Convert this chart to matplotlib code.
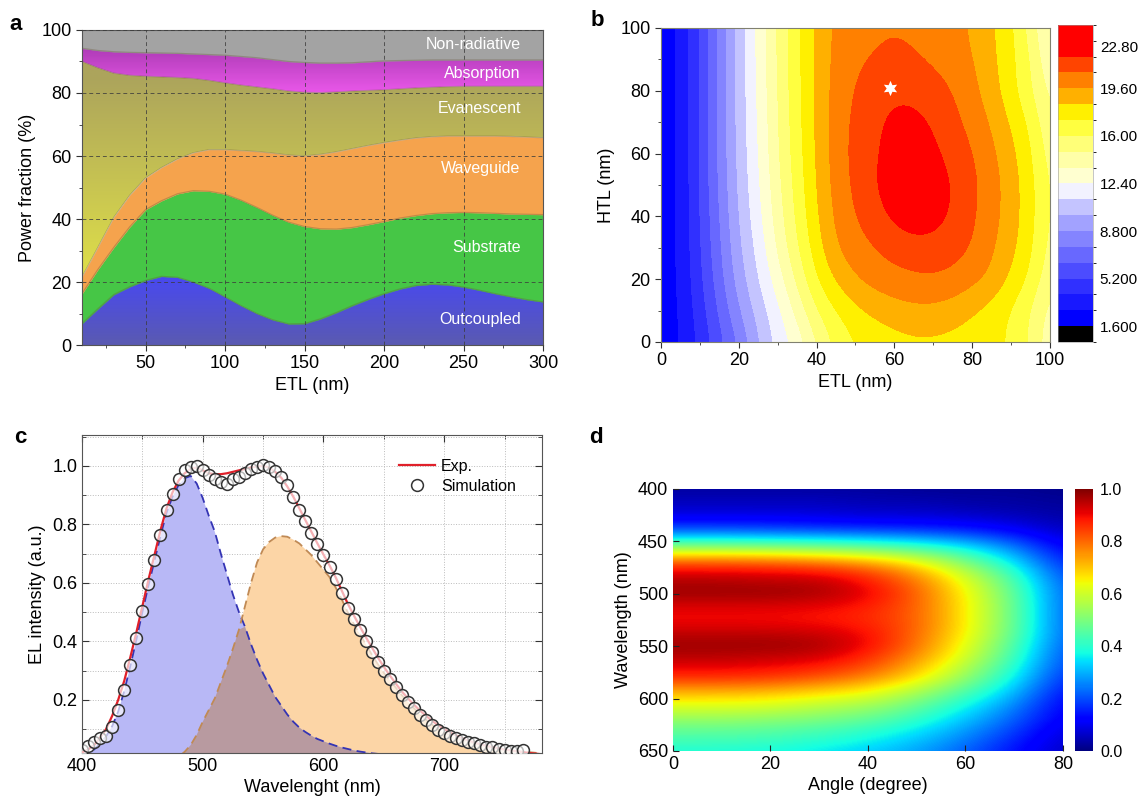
import numpy as np
import matplotlib
matplotlib.use('Agg')
import matplotlib.pyplot as plt
from matplotlib.colors import LinearSegmentedColormap, ListedColormap, BoundaryNorm
from matplotlib.ticker import MultipleLocator

plt.rcParams['font.family'] = ['Liberation Sans', 'DejaVu Sans']

## ---------- panel a : power fractions vs ETL (cumulative tops, %) ----------
a_etl = [10, 20, 30, 40, 50, 60, 70, 80, 90, 100, 110, 120, 130, 140, 150,
         160, 170, 180, 190, 200, 210, 220, 230, 240, 250, 260, 270, 280, 290, 300]
a_top_outcoupled = [6.8, 11.5, 16.0, 18.5, 20.5, 21.8, 21.5, 20.0, 18.0, 15.3,
                    12.5, 10.0, 8.0, 6.7, 6.8, 8.3, 10.3, 12.5, 14.5, 16.3,
                    17.8, 18.9, 19.3, 19.1, 18.4, 17.4, 16.3, 15.3, 14.4, 13.7]
a_top_substrate = [16.3, 24.0, 31.0, 37.5, 43.0, 45.8, 48.0, 49.0, 48.8, 47.9,
                   46.0, 43.7, 41.2, 39.0, 37.6, 36.9, 36.8, 37.3, 38.2, 39.2,
                   40.3, 41.1, 41.7, 42.0, 42.1, 42.0, 41.8, 41.6, 41.5, 41.4]
a_top_waveguide = [21.6, 31.0, 40.5, 47.5, 53.0, 56.3, 59.0, 61.0, 62.0, 62.0,
                   61.7, 61.4, 60.9, 60.3, 60.0, 60.5, 61.3, 62.3, 63.3, 64.2,
                   65.0, 65.7, 66.1, 66.3, 66.3, 66.3, 66.3, 66.2, 66.0, 65.8]
a_top_evanescent = [90.0, 88.0, 86.3, 85.6, 85.3, 85.1, 84.9, 84.6, 84.0, 83.2,
                    82.5, 81.9, 81.3, 80.6, 80.2, 80.1, 80.3, 80.6, 80.8, 81.0,
                    81.3, 81.6, 81.8, 82.0, 82.1, 82.1, 82.1, 82.1, 82.1, 82.1]
a_top_absorption = [94.2, 93.5, 93.1, 92.9, 92.8, 92.7, 92.6, 92.4, 92.2, 92.0,
                    91.6, 91.2, 90.6, 90.0, 89.7, 89.5, 89.5, 89.6, 89.9, 90.2,
                    90.3, 90.4, 90.5, 90.5, 90.5, 90.5, 90.5, 90.5, 90.5, 90.5]
a_labels = ['Non-radiative', 'Absorption', 'Evanescent', 'Waveguide', 'Substrate', 'Outcoupled']
a_label_y = [95.3, 86.3, 75.0, 56.1, 31.1, 8.1]

## ---------- panel b : efficiency map (rows = HTL, cols = ETL) ----------
b_etl = [0, 5, 10, 15, 20, 25, 30, 35, 40, 45, 50, 55, 60, 65, 70, 75, 80, 85, 90, 95, 100]
b_htl = [0, 10, 20, 30, 40, 50, 60, 70, 80, 90, 100]
b_eff = [
    [1.8, 2.85, 4.25, 6.0, 7.7, 9.9, 11.6, 12.8, 14.8, 16.3, 17.2, 17.6, 17.9, 18.1, 18.1, 18.0, 17.8, 17.5, 17.1, 15.9, 13.9],
    [1.9, 2.9, 4.6, 6.6, 8.7, 10.5, 12.1, 14.0, 16.0, 17.2, 18.1, 18.7, 19.1, 19.3, 19.3, 19.0, 18.5, 17.9, 17.1, 16.0, 14.3],
    [1.9, 3.0, 4.9, 7.1, 9.4, 11.2, 13.0, 15.1, 17.2, 18.6, 19.6, 20.1, 20.4, 20.6, 20.7, 20.5, 20.0, 19.4, 18.2, 17.0, 15.1],
    [2.0, 3.0, 5.1, 7.4, 9.8, 11.6, 13.8, 15.9, 17.9, 19.6, 20.3, 20.8, 21.3, 21.6, 21.6, 21.3, 20.8, 19.8, 18.8, 17.5, 15.5],
    [2.0, 3.0, 5.2, 7.6, 10.1, 12.0, 14.2, 16.3, 18.3, 19.9, 20.8, 21.6, 22.3, 22.7, 22.5, 21.9, 21.0, 20.1, 19.0, 17.7, 15.7],
    [2.0, 3.0, 5.3, 7.8, 10.3, 12.2, 14.5, 16.5, 18.5, 20.1, 21.1, 22.0, 22.7, 23.0, 22.7, 22.0, 21.1, 20.2, 19.0, 17.7, 15.7],
    [2.0, 3.0, 5.3, 7.9, 10.4, 12.4, 14.7, 16.7, 18.6, 20.2, 21.2, 21.9, 22.5, 22.7, 22.3, 21.6, 20.9, 19.9, 18.8, 17.4, 15.4],
    [2.0, 3.0, 5.3, 7.9, 10.5, 12.5, 14.8, 16.8, 18.7, 20.2, 21.1, 21.8, 22.3, 22.4, 21.9, 21.2, 20.4, 19.5, 18.3, 17.0, 14.9],
    [1.9, 3.0, 5.3, 7.9, 10.5, 12.6, 14.9, 16.9, 18.7, 20.1, 20.9, 21.5, 21.8, 21.7, 21.3, 20.8, 19.95, 19.0, 17.6, 16.2, 14.4],
    [1.9, 3.0, 5.3, 7.9, 10.5, 12.7, 15.0, 16.9, 18.7, 20.0, 20.6, 20.9, 21.1, 20.9, 20.6, 20.3, 19.7, 18.7, 17.6, 16.1, 13.6],
    [1.9, 3.0, 5.3, 7.9, 10.5, 12.7, 15.0, 16.9, 18.7, 19.9, 20.3, 20.6, 20.7, 20.6, 20.4, 20.1, 19.4, 18.6, 17.5, 15.5, 13.2],
]
b_levels = [0.4, 1.6, 2.8, 4.0, 5.2, 6.4, 7.6, 8.8, 10.0, 11.2, 12.4,
            13.6, 14.8, 16.0, 17.2, 18.4, 19.6, 20.8, 22.0, 23.2, 24.4]
b_colors = ['#000000', '#0000ff', '#1818ff', '#3030ff', '#4c4cff', '#6868ff', '#8484ff',
            '#a2a2ff', '#c4c4ff', '#f2f2ff', '#ffffd0', '#ffffa8', '#ffff78', '#ffff40',
            '#fff000', '#ffb000', '#ff8000', '#ff4400', '#ff0000', '#ff0000']
b_ticks = [1.6, 5.2, 8.8, 12.4, 16.0, 19.6, 22.8]
b_ticklabels = ['1.600', '5.200', '8.800', '12.40', '16.00', '19.60', '22.80']
star_etl = 59
star_htl = 81

## ---------- panel c : EL spectra ----------
c_wl = [400, 405, 410, 415, 420, 425, 430, 435, 440, 445, 450, 455, 460, 465, 470, 475, 480, 485, 490, 495,
        500, 505, 510, 515, 520, 525, 530, 535, 540, 545, 550, 555, 560, 565, 570, 575, 580, 585, 590, 595,
        600, 605, 610, 615, 620, 625, 630, 635, 640, 645, 650, 655, 660, 665, 670, 675, 680, 685, 690, 695,
        700, 705, 710, 715, 720, 725, 730, 735, 740, 745, 750, 755, 760, 765, 770, 775, 780]
c_exp = [0.02, 0.03, 0.045, 0.07, 0.10, 0.145, 0.20, 0.265, 0.345, 0.43, 0.52, 0.61, 0.695, 0.78, 0.855, 0.91, 0.95, 0.975, 0.99, 0.995,
         0.985, 0.975, 0.972, 0.972, 0.975, 0.98, 0.985, 0.99, 0.995, 0.998, 1.0, 0.995, 0.98, 0.96, 0.93, 0.895, 0.855, 0.815, 0.775, 0.735,
         0.697, 0.66, 0.62, 0.575, 0.53, 0.49, 0.452, 0.415, 0.38, 0.345, 0.313, 0.283, 0.255, 0.228, 0.205, 0.183, 0.163, 0.145, 0.128, 0.113,
         0.10, 0.088, 0.078, 0.069, 0.061, 0.054, 0.048, 0.043, 0.038, 0.034, 0.030, 0.027, 0.024, 0.021, 0.018, 0.016, 0.014]
c_blue = [0.0, 0.015, 0.03, 0.05, 0.075, 0.11, 0.16, 0.23, 0.315, 0.405, 0.50, 0.59, 0.675, 0.76, 0.84, 0.895, 0.935, 0.958, 0.966, 0.94,
          0.89, 0.83, 0.775, 0.70, 0.63, 0.56, 0.50, 0.45, 0.39, 0.337, 0.29, 0.25, 0.21, 0.18, 0.15, 0.125, 0.105, 0.09, 0.077, 0.066,
          0.058, 0.05, 0.043, 0.037, 0.032, 0.027, 0.023, 0.02, 0.017, 0.015, 0.013, 0.011, 0.01, 0.009, 0.008, 0.007, 0.006, 0.005, 0.005, 0.004,
          0.004, 0.003, 0.003, 0.003, 0.002, 0.002, 0.002, 0.002, 0.002, 0.001, 0.001, 0.001, 0.001, 0.001, 0.001, 0.001, 0.001]
c_orange = [0, 0, 0, 0, 0, 0, 0, 0, 0, 0, 0, 0, 0, 0, 0, 0, 0.005, 0.022, 0.045, 0.08,
            0.125, 0.165, 0.205, 0.26, 0.315, 0.375, 0.44, 0.52, 0.60, 0.67, 0.715, 0.74, 0.755, 0.76, 0.758, 0.748, 0.735, 0.715, 0.695, 0.67,
            0.645, 0.62, 0.585, 0.545, 0.50, 0.46, 0.425, 0.39, 0.355, 0.322, 0.292, 0.267, 0.241, 0.215, 0.193, 0.171, 0.15, 0.132, 0.115, 0.099,
            0.088, 0.078, 0.07, 0.063, 0.057, 0.051, 0.046, 0.041, 0.037, 0.033, 0.03, 0.027, 0.025, 0.023, 0.021, 0.019, 0.017]
c_sim_wl = c_wl[:74]
c_sim = [0.028, 0.042, 0.056, 0.068, 0.076, 0.108, 0.165, 0.235, 0.32, 0.41, 0.505, 0.595, 0.68, 0.765, 0.85, 0.905, 0.955, 0.985, 0.995, 1.0,
         0.985, 0.97, 0.955, 0.945, 0.94, 0.955, 0.962, 0.975, 0.99, 0.995, 1.005, 0.998, 0.982, 0.963, 0.935, 0.895, 0.85, 0.812, 0.77, 0.733,
         0.694, 0.655, 0.615, 0.565, 0.515, 0.475, 0.44, 0.40, 0.365, 0.33, 0.297, 0.272, 0.245, 0.217, 0.194, 0.171, 0.149, 0.131, 0.114, 0.097,
         0.086, 0.077, 0.069, 0.063, 0.057, 0.051, 0.046, 0.04, 0.037, 0.032, 0.029, 0.026, 0.026, 0.028]

## ---------- panel d : angular spectra map (rows = wavelength, cols = angle) ----------
d_angle = [0, 10, 20, 30, 40, 50, 60, 70, 80]
d_wl = [400, 410, 420, 430, 440, 450, 460, 470, 480, 490, 500, 510, 520,
        530, 540, 550, 560, 570, 580, 590, 600, 610, 620, 630, 640, 650]
d_int = [
    [0.03, 0.03, 0.03, 0.03, 0.03, 0.02, 0.02, 0.02, 0.01],
    [0.05, 0.05, 0.05, 0.05, 0.04, 0.04, 0.03, 0.03, 0.02],
    [0.07, 0.07, 0.07, 0.07, 0.06, 0.06, 0.05, 0.04, 0.03],
    [0.12, 0.12, 0.12, 0.11, 0.10, 0.10, 0.09, 0.07, 0.04],
    [0.22, 0.22, 0.21, 0.20, 0.19, 0.18, 0.16, 0.12, 0.06],
    [0.40, 0.40, 0.39, 0.38, 0.36, 0.33, 0.28, 0.20, 0.09],
    [0.60, 0.60, 0.59, 0.57, 0.54, 0.49, 0.40, 0.28, 0.12],
    [0.80, 0.80, 0.79, 0.77, 0.72, 0.64, 0.50, 0.35, 0.15],
    [0.91, 0.91, 0.90, 0.89, 0.84, 0.74, 0.58, 0.41, 0.18],
    [0.96, 0.96, 0.95, 0.95, 0.89, 0.79, 0.63, 0.45, 0.20],
    [0.97, 0.97, 0.97, 0.96, 0.91, 0.81, 0.65, 0.47, 0.21],
    [0.93, 0.93, 0.93, 0.92, 0.89, 0.81, 0.66, 0.48, 0.21],
    [0.90, 0.90, 0.90, 0.89, 0.87, 0.81, 0.66, 0.48, 0.21],
    [0.91, 0.91, 0.91, 0.90, 0.88, 0.81, 0.66, 0.48, 0.21],
    [0.95, 0.95, 0.95, 0.94, 0.90, 0.80, 0.65, 0.47, 0.21],
    [0.97, 0.97, 0.97, 0.96, 0.90, 0.79, 0.63, 0.45, 0.20],
    [0.95, 0.95, 0.94, 0.93, 0.87, 0.76, 0.61, 0.43, 0.19],
    [0.91, 0.91, 0.90, 0.88, 0.83, 0.72, 0.57, 0.40, 0.18],
    [0.86, 0.86, 0.85, 0.82, 0.77, 0.67, 0.53, 0.37, 0.16],
    [0.76, 0.76, 0.75, 0.72, 0.68, 0.59, 0.47, 0.33, 0.14],
    [0.67, 0.67, 0.66, 0.63, 0.60, 0.52, 0.41, 0.29, 0.12],
    [0.60, 0.60, 0.59, 0.56, 0.53, 0.46, 0.36, 0.25, 0.11],
    [0.53, 0.53, 0.52, 0.50, 0.47, 0.41, 0.32, 0.22, 0.10],
    [0.47, 0.47, 0.46, 0.44, 0.41, 0.36, 0.28, 0.19, 0.08],
    [0.43, 0.43, 0.42, 0.40, 0.37, 0.32, 0.25, 0.16, 0.07],
    [0.39, 0.39, 0.38, 0.36, 0.33, 0.29, 0.22, 0.14, 0.06],
]


def grad_fill(ax, x, lo, hi, stops):
    # vertical colour ramp (stops in % of the y axis) clipped to the band
    poly = ax.fill_between(x, lo, hi, facecolor='none', edgecolor='none')
    cm = LinearSegmentedColormap.from_list('ramp', stops)
    im = ax.imshow(np.linspace(0, 1, 200).reshape(-1, 1), cmap=cm, origin='lower',
                   aspect='auto', extent=[x[0], x[-1], 0, 100], zorder=0.6)
    im.set_clip_path(poly.get_paths()[0], transform=ax.transData)


fig = plt.figure(figsize=(11.42, 8.02), dpi=100)

###### panel a ######
ax_a = fig.add_axes([0.0718, 0.5698, 0.4037, 0.3928])
zero = np.zeros(len(a_etl))
hundred = np.full(len(a_etl), 100.0)
grad_fill(ax_a, a_etl, zero, a_top_outcoupled, [(0, '#5a5ab2'), (0.22, '#4848f2'), (1, '#4848f2')])
ax_a.fill_between(a_etl, a_top_outcoupled, a_top_substrate, facecolor='#46c646', edgecolor='#46c646', lw=0.3)
ax_a.fill_between(a_etl, a_top_substrate, a_top_waveguide, facecolor='#f5a34d', edgecolor='#f5a34d', lw=0.3)
grad_fill(ax_a, a_etl, a_top_waveguide, a_top_evanescent,
          [(0, '#dcdc4a'), (0.25, '#dcdc4a'), (0.85, '#aca45c'), (1, '#aca45c')])
grad_fill(ax_a, a_etl, a_top_evanescent, a_top_absorption,
          [(0, '#e656e6'), (0.81, '#e656e6'), (0.94, '#b03cb8'), (1, '#b03cb8')])
ax_a.fill_between(a_etl, a_top_absorption, hundred, facecolor='#a3a3a3', edgecolor='#a3a3a3', lw=0.3)
# thin seams between the layers
for top in [a_top_outcoupled, a_top_substrate, a_top_waveguide, a_top_evanescent, a_top_absorption]:
    ax_a.plot(a_etl, top, color='#6a5a3a', alpha=0.35, lw=0.9, zorder=1.5)

for lab, yy in zip(a_labels, a_label_y):
    ax_a.text(286, yy, lab, color='white', fontsize=11.5, ha='right', va='center')

ax_a.set_xlim(10, 300)
ax_a.set_ylim(0, 100)
ax_a.set_axisbelow(False)
ax_a.xaxis.set_major_locator(MultipleLocator(50))
ax_a.xaxis.set_minor_locator(MultipleLocator(25))
ax_a.yaxis.set_major_locator(MultipleLocator(20))
ax_a.yaxis.set_minor_locator(MultipleLocator(10))
ax_a.grid(True, which='major', linestyle=(0, (4, 3)), color='#3c3c3c', linewidth=0.7, alpha=0.8)
ax_a.tick_params(which='both', direction='out', colors='#333333', labelcolor='black', labelsize=13)
ax_a.tick_params(which='major', length=4)
ax_a.tick_params(which='minor', length=2.5)
for s in ax_a.spines.values():
    s.set_color('#555555')
ax_a.set_xlabel('ETL (nm)', fontsize=13, labelpad=3)
ax_a.set_ylabel('Power fraction (%)', fontsize=13, labelpad=4)

###### panel b ######
ax_b = fig.add_axes([0.5788, 0.5736, 0.3406, 0.3915])
b_cmap = ListedColormap(b_colors)
b_norm = BoundaryNorm(b_levels, len(b_colors))
im_b = ax_b.imshow(b_eff, origin='lower', extent=[-2.5, 102.5, -5, 105], aspect='auto',
                   cmap=b_cmap, norm=b_norm, interpolation='bicubic', interpolation_stage='data')
ax_b.plot(star_etl, star_htl, marker=(6, 1, 0), color='white', markersize=11, markeredgewidth=0)
ax_b.set_xlim(0, 100)
ax_b.set_ylim(0, 100)
ax_b.xaxis.set_major_locator(MultipleLocator(20))
ax_b.xaxis.set_minor_locator(MultipleLocator(10))
ax_b.yaxis.set_major_locator(MultipleLocator(20))
ax_b.yaxis.set_minor_locator(MultipleLocator(10))
ax_b.tick_params(which='both', direction='out', colors='#333333', labelcolor='black', labelsize=13)
ax_b.tick_params(which='major', length=4)
ax_b.tick_params(which='minor', length=2.5)
for s in ax_b.spines.values():
    s.set_color('#808070')
ax_b.set_xlabel('ETL (nm)', fontsize=13, labelpad=3)
ax_b.set_ylabel('HTL (nm)', fontsize=13, labelpad=4)

cax_b = fig.add_axes([0.9264, 0.5736, 0.0306, 0.3953])
cb_b = fig.colorbar(im_b, cax=cax_b, ticks=b_ticks)
cb_b.ax.set_yticklabels(b_ticklabels)
cb_b.ax.tick_params(length=0, labelsize=11, pad=5)
cb_b.outline.set_linewidth(0.4)
cb_b.outline.set_edgecolor('#999999')

###### panel c ######
ax_c = fig.add_axes([0.0718, 0.0611, 0.4028, 0.3965])
ax_c.fill_between(c_wl, 0, c_orange, facecolor='#fcd5a6', edgecolor='none', zorder=1)
ax_c.fill_between(c_wl, 0, c_blue, facecolor='#b8b8f6', edgecolor='none', zorder=1.1)
ax_c.fill_between(c_wl, 0, np.minimum(c_blue, c_orange), facecolor='#b89aa0', edgecolor='none', zorder=1.2)
ax_c.plot(c_wl, c_blue, color='#3434b4', lw=1.3, dashes=(5, 3), zorder=2)
ax_c.plot(c_wl, c_orange, color='#c08a55', lw=1.3, dashes=(5, 3), zorder=2)
ax_c.plot(c_wl, c_exp, color='#e0202a', lw=1.6, label='Exp.', zorder=3)
ax_c.plot(c_sim_wl, c_sim, 'o', markersize=8.5, markerfacecolor=(1, 1, 1, 0.65),
          markeredgecolor='#333333', markeredgewidth=1.1, label='Simulation', zorder=4)
ax_c.set_xlim(400, 781)
ax_c.set_ylim(0.018, 1.106)
ax_c.xaxis.set_major_locator(MultipleLocator(100))
ax_c.xaxis.set_minor_locator(MultipleLocator(50))
ax_c.yaxis.set_major_locator(MultipleLocator(0.2))
ax_c.yaxis.set_minor_locator(MultipleLocator(0.1))
ax_c.set_yticks([0.2, 0.4, 0.6, 0.8, 1.0])
ax_c.set_yticklabels(['0.2', '0.4', '0.6', '0.8', '1.0'])
ax_c.grid(True, which='both', linestyle=':', color='#bbbbbb', linewidth=0.7)
ax_c.set_axisbelow(True)
ax_c.tick_params(which='both', direction='in', top=True, right=True, colors='#333333',
                 labelcolor='black', labelsize=13)
ax_c.tick_params(which='major', length=5)
ax_c.tick_params(which='minor', length=3)
for s in ax_c.spines.values():
    s.set_color('#555555')
ax_c.set_xlabel('Wavelenght (nm)', fontsize=13, labelpad=3)
ax_c.set_ylabel('EL intensity (a.u.)', fontsize=13, labelpad=4)
ax_c.legend(loc='upper left', bbox_to_anchor=(0.69, 0.925), frameon=False, fontsize=11.5,
            handlelength=2.2, handletextpad=0.4, borderpad=0, borderaxespad=0, labelspacing=0.3)

###### panel d ######
ax_d = fig.add_axes([0.5893, 0.0636, 0.3415, 0.3267])
im_d = ax_d.imshow(d_int, origin='upper', extent=[-5, 85, 655, 395], aspect='auto',
                   cmap='jet', vmin=0, vmax=1, interpolation='bicubic')
ax_d.set_xlim(0, 80)
ax_d.set_ylim(650, 400)
ax_d.set_xticks([0, 20, 40, 60, 80])
ax_d.set_yticks([400, 450, 500, 550, 600, 650])
ax_d.tick_params(direction='in', length=4, colors='#222222', labelcolor='black', labelsize=13)
for s in ax_d.spines.values():
    s.set_visible(False)
ax_d.set_xlabel('Angle (degree)', fontsize=13, labelpad=3)
ax_d.set_ylabel('Wavelength (nm)', fontsize=13, labelpad=4)

cax_d = fig.add_axes([0.9413, 0.0636, 0.0158, 0.3267])
cb_d = fig.colorbar(im_d, cax=cax_d, ticks=[0, 0.2, 0.4, 0.6, 0.8, 1.0])
cb_d.ax.set_yticklabels(['0.0', '0.2', '0.4', '0.6', '0.8', '1.0'])
cb_d.ax.tick_params(length=0, labelsize=11.5, pad=5)
cb_d.outline.set_visible(False)

## panel letters
fig.text(0.014, 0.969, 'a', fontsize=16, weight='bold', ha='center', va='center')
fig.text(0.523, 0.975, 'b', fontsize=16, weight='bold', ha='center', va='center')
fig.text(0.0175, 0.455, 'c', fontsize=16, weight='bold', ha='center', va='center')
fig.text(0.522, 0.455, 'd', fontsize=16, weight='bold', ha='center', va='center')

fig.savefig('out.png', dpi=100)
plt.close()
